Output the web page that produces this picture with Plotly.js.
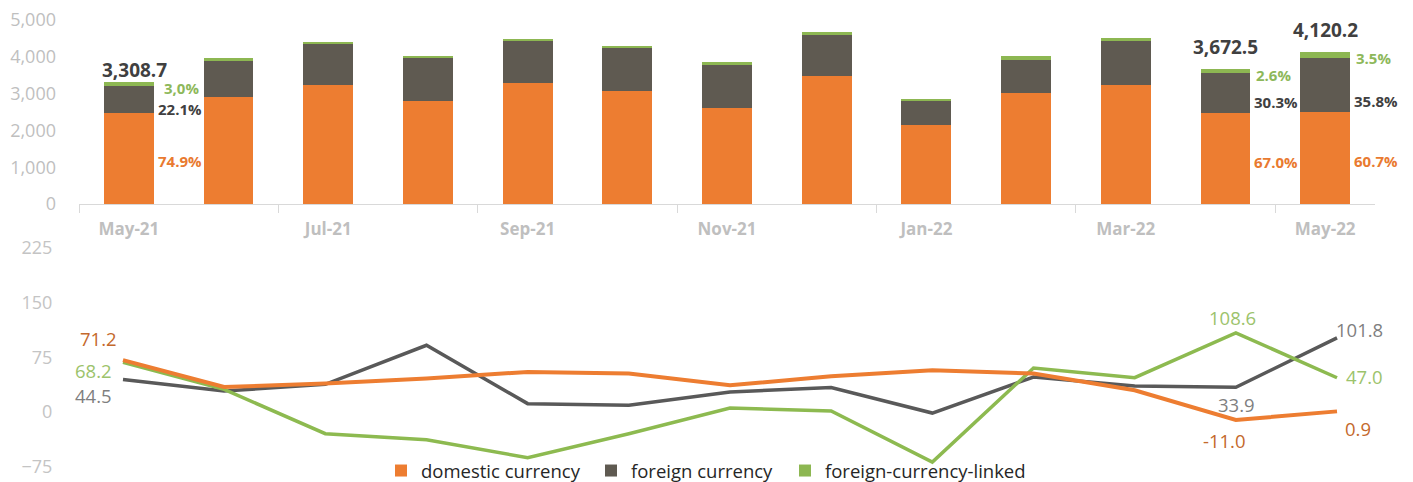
<!DOCTYPE html>
<html><head><meta charset="utf-8">
<script src="https://cdn.plot.ly/plotly-3.0.1.min.js"></script>
<style>html,body{margin:0;padding:0;background:#fff;overflow:hidden}#chart{width:1413px;height:482px;display:block}</style>
</head><body><div id="chart"></div>
<script>
// ---- data ----
const months = ['May-21','Jun-21','Jul-21','Aug-21','Sep-21','Oct-21','Nov-21','Dec-21','Jan-22','Feb-22','Mar-22','Apr-22','May-22'];
const stockDomestic = [2478.2, 2916, 3234, 2807, 3279, 3080, 2618, 3469, 2147, 3008, 3234, 2460.6, 2501.0];
const stockForeign  = [731.2, 978, 1114, 1160, 1159, 1168, 1168, 1123, 660, 914, 1195, 1112.8, 1475.0];
const stockLinked   = [99.3, 75, 45, 45, 45, 45, 75, 75, 45, 90, 82, 99.1, 144.2];
const growthDomestic = [71.2, 34.3, 39.0, 45.9, 55.0, 52.7, 36.7, 49.0, 57.3, 52.7, 29.8, -11.0, 0.9];
const growthForeign  = [44.5, 28.8, 38.0, 91.6, 11.5, 9.2, 27.5, 33.5, -1.4, 48.0, 35.7, 33.9, 101.8];
const growthLinked   = [68.2, 31.0, -29.7, -38.0, -62.6, -29.7, 5.5, 1.4, -68.7, 60.4, 47.2, 108.6, 47.0];
const labeledIdx = [0, 11, 12];
const totals = [3308.7, 3672.5, 4120.2];
const shareDomestic = ['74.9%', '67.0%', '60.7%'];
const shareForeign  = ['22.1%', '30.3%', '35.8%'];
const shareLinked   = ['3,0%', '2.6%', '3.5%'];
const tickIdx = [0, 2, 4, 6, 8, 10, 12];
const seriesNames = ['domestic currency', 'foreign currency', 'foreign-currency-linked'];

// ---- style ----
const FONT = '"Open Sans", sans-serif';
const COL = {dom: '#ED7D31', fc: '#5F5A51', fcl: '#8DB752'};
const LINECOL = {dom: '#ED7D31', fc: '#595959', fcl: '#8DBA50'};
const LBLCOL = {dom: '#C4692C', fc: '#7F7F7F', fcl: '#9CC36C'};
const xs = months.map((m, i) => i);
const W = 1413, H = 482;

const traces = [
  {type: 'bar', x: xs, y: stockDomestic, name: seriesNames[0], legend: 'legend', marker: {color: COL.dom}, width: 0.5, xaxis: 'x', yaxis: 'y', hoverinfo: 'skip'},
  {type: 'bar', x: xs, y: stockForeign, name: seriesNames[1], legend: 'legend2', marker: {color: COL.fc}, width: 0.5, xaxis: 'x', yaxis: 'y', hoverinfo: 'skip'},
  {type: 'bar', x: xs, y: stockLinked, name: seriesNames[2], legend: 'legend3', marker: {color: COL.fcl}, width: 0.5, xaxis: 'x', yaxis: 'y', hoverinfo: 'skip'},
  {type: 'scatter', mode: 'lines', x: xs, y: growthForeign, line: {color: LINECOL.fc, width: 3.5}, xaxis: 'x2', yaxis: 'y2', showlegend: false, hoverinfo: 'skip'},
  {type: 'scatter', mode: 'lines', x: xs, y: growthLinked, line: {color: LINECOL.fcl, width: 3.5}, xaxis: 'x2', yaxis: 'y2', showlegend: false, hoverinfo: 'skip'},
  {type: 'scatter', mode: 'lines', x: xs, y: growthDomestic, line: {color: LINECOL.dom, width: 4}, xaxis: 'x2', yaxis: 'y2', showlegend: false, hoverinfo: 'skip'}
];

const ann = [];
labeledIdx.forEach((i, k) => {
  ann.push({xref: 'x', yref: 'y', x: i, y: totals[k], text: totals[k].toLocaleString('en-US', {minimumFractionDigits: 1, maximumFractionDigits: 1}),
    showarrow: false, xanchor: 'center', yanchor: 'bottom', xshift: k === 0 ? 6 : 0, yshift: k === 0 ? -3 : 7,
    font: {family: FONT, size: 19, color: '#404040', weight: 'bold'}});
  ann.push({xref: 'x', yref: 'y', x: i + 0.25, y: totals[k], text: shareLinked[k], showarrow: false,
    xanchor: 'left', yanchor: 'middle', xshift: k === 0 ? 8 : 4, yshift: -6,
    font: {family: FONT, size: 15, color: '#8DB85A', weight: 'bold'}});
  ann.push({xref: 'x', yref: 'y', x: i + 0.25, y: stockDomestic[i], text: shareForeign[k], showarrow: false,
    xanchor: 'left', yanchor: 'middle', xshift: 2, yshift: k === 0 ? 4 : 11,
    font: {family: FONT, size: 15, color: '#404040', weight: 'bold'}});
  ann.push({xref: 'x', yref: 'y', x: i + 0.25, y: stockDomestic[i] / 2, text: shareDomestic[k], showarrow: false,
    xanchor: 'left', yanchor: 'middle', xshift: 2, yshift: -3,
    font: {family: FONT, size: 15, color: '#E97A30', weight: 'bold'}});
});

// line value labels (offsets in px relative to each point)
const lineLabel = (arr, i, col, xanchor, xshift, yshift) => ann.push({
  xref: 'x2', yref: 'y2', x: i, y: arr[i], text: arr[i].toFixed(1), showarrow: false,
  xanchor: xanchor, yanchor: 'middle', xshift: xshift, yshift: yshift,
  font: {family: FONT, size: 18.5, color: col}});
lineLabel(growthDomestic, 0, LBLCOL.dom, 'right', -4, 22);
lineLabel(growthLinked, 0, LBLCOL.fcl, 'right', -9, -8);
lineLabel(growthForeign, 0, LBLCOL.fc, 'right', -9, -16);
lineLabel(growthLinked, 11, LBLCOL.fcl, 'center', -3, 15);
lineLabel(growthForeign, 11, LBLCOL.fc, 'center', 1, -17);
lineLabel(growthDomestic, 11, LBLCOL.dom, 'center', -11, -20);
lineLabel(growthForeign, 12, LBLCOL.fc, 'left', -3, 8);
lineLabel(growthLinked, 12, LBLCOL.fcl, 'left', 7, 1);
lineLabel(growthDomestic, 12, LBLCOL.dom, 'left', 6, -17);

const legendBase = (xpx) => ({orientation: 'h', x: xpx / W, xanchor: 'left', y: 1 - 471 / H, yanchor: 'middle',
  font: {family: FONT, size: 18.5, color: '#262626'}, bgcolor: 'rgba(0,0,0,0)', borderwidth: 0});

const layout = {
  width: W, height: H, margin: {l: 0, r: 0, t: 0, b: 0, autoexpand: false},
  paper_bgcolor: '#ffffff', plot_bgcolor: 'rgba(0,0,0,0)',
  barmode: 'stack',
  font: {family: FONT, color: '#404040'},
  showlegend: true,
  legend: legendBase(416 - 35),
  legend2: legendBase(626 - 35),
  legend3: legendBase(820 - 35),
  xaxis: {domain: [79 / W, 1375 / W], range: [-0.5, 12.5], anchor: 'y',
    tickvals: tickIdx, ticktext: tickIdx.map(i => months[i]), ticks: '',
    showline: true, linecolor: '#d9d9d9', linewidth: 1, showgrid: false, zeroline: false,
    tickfont: {family: FONT, size: 17, color: '#bfbfbf', weight: 'bold'}, ticklabelstandoff: 10,
    minor: {tickvals: tickIdx.map(i => i - 0.5), ticks: 'outside', ticklen: 8, tickcolor: '#d9d9d9', tickwidth: 1, showgrid: false}},
  yaxis: {domain: [1 - 204 / H, 1 - 20 / H], range: [0, 5000], dtick: 1000, tickformat: ',', anchor: 'x',
    showgrid: false, zeroline: false, showline: false, ticks: '',
    tickfont: {family: FONT, size: 18, color: '#bfbfbf'}, ticklabelstandoff: 22},
  xaxis2: {domain: [72.4 / W, 1387.6 / W], range: [-0.5, 12.5], anchor: 'y2', visible: false},
  yaxis2: {domain: [1 - 466.7 / H, 1 - 248 / H], range: [-75, 225], tick0: 0, dtick: 75, anchor: 'x2',
    showgrid: false, zeroline: false, showline: false, ticks: '',
    tickfont: {family: FONT, size: 18, color: '#c4c4c4'}, ticklabelstandoff: 19},
  annotations: ann
};

Plotly.newPlot('chart', traces, layout, {staticPlot: true, displayModeBar: false});
</script>
</body></html>
